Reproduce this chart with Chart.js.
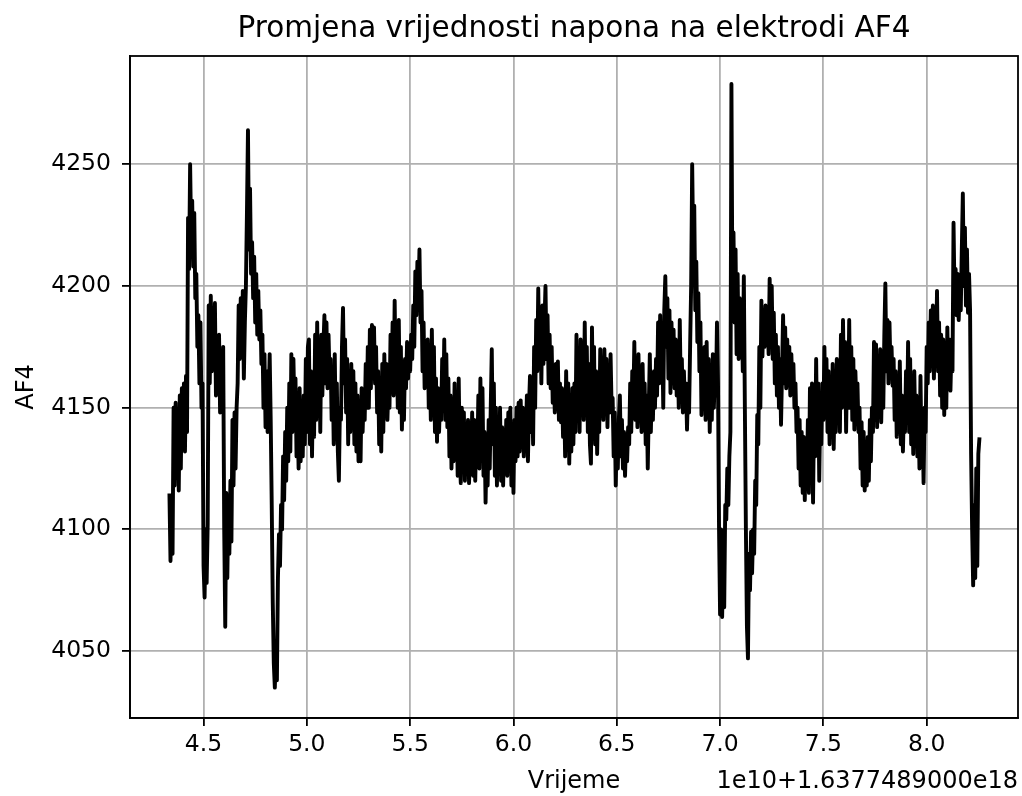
<!DOCTYPE html>
<html>
<head>
<meta charset="utf-8">
<script src="https://cdn.jsdelivr.net/npm/chart.js"></script>
<style>
  html, body { margin: 0; padding: 0; background: #fff; }
  #chartAF4 { display: block; }
</style>
</head>
<body>
<canvas id="chartAF4" width="1022" height="796"></canvas>
<script>
// vrijeme (x 1e10 + 1.6377489000e18)
var times = [
  4.335,4.340,4.345,4.350,4.355,4.360,4.365,4.370,4.375,4.380,
  4.385,4.390,4.395,4.400,4.405,4.410,4.415,4.420,4.425,4.430,
  4.435,4.440,4.445,4.450,4.455,4.460,4.465,4.470,4.475,4.480,
  4.485,4.490,4.495,4.500,4.505,4.510,4.515,4.520,4.525,4.530,
  4.535,4.540,4.545,4.550,4.555,4.560,4.565,4.570,4.575,4.580,
  4.585,4.590,4.595,4.600,4.605,4.610,4.615,4.620,4.625,4.630,
  4.635,4.640,4.645,4.650,4.655,4.660,4.665,4.670,4.675,4.680,
  4.685,4.690,4.695,4.700,4.705,4.710,4.715,4.720,4.725,4.730,
  4.735,4.740,4.745,4.750,4.755,4.760,4.765,4.770,4.775,4.780,
  4.785,4.790,4.795,4.800,4.805,4.810,4.815,4.820,4.825,4.830,
  4.835,4.840,4.845,4.850,4.855,4.860,4.865,4.870,4.875,4.880,
  4.885,4.890,4.895,4.900,4.905,4.910,4.915,4.920,4.925,4.930,
  4.935,4.940,4.945,4.950,4.955,4.960,4.965,4.970,4.975,4.980,
  4.985,4.990,4.995,5.000,5.005,5.010,5.015,5.020,5.025,5.030,
  5.035,5.040,5.045,5.050,5.055,5.060,5.065,5.070,5.075,5.080,
  5.085,5.090,5.095,5.100,5.105,5.110,5.115,5.120,5.125,5.130,
  5.135,5.140,5.145,5.150,5.155,5.160,5.165,5.170,5.175,5.180,
  5.185,5.190,5.195,5.200,5.205,5.210,5.215,5.220,5.225,5.230,
  5.235,5.240,5.245,5.250,5.255,5.260,5.265,5.270,5.275,5.280,
  5.285,5.290,5.295,5.300,5.305,5.310,5.315,5.320,5.325,5.330,
  5.335,5.340,5.345,5.350,5.355,5.360,5.365,5.370,5.375,5.380,
  5.385,5.390,5.395,5.400,5.405,5.410,5.415,5.420,5.425,5.430,
  5.435,5.440,5.445,5.450,5.455,5.460,5.465,5.470,5.475,5.480,
  5.485,5.490,5.495,5.500,5.505,5.510,5.515,5.520,5.525,5.530,
  5.535,5.540,5.545,5.550,5.555,5.560,5.565,5.570,5.575,5.580,
  5.585,5.590,5.595,5.600,5.605,5.610,5.615,5.620,5.625,5.630,
  5.635,5.640,5.645,5.650,5.655,5.660,5.665,5.670,5.675,5.680,
  5.685,5.690,5.695,5.700,5.705,5.710,5.715,5.720,5.725,5.730,
  5.735,5.740,5.745,5.750,5.755,5.760,5.765,5.770,5.775,5.780,
  5.785,5.790,5.795,5.800,5.805,5.810,5.815,5.820,5.825,5.830,
  5.835,5.840,5.845,5.850,5.855,5.860,5.865,5.870,5.875,5.880,
  5.885,5.890,5.895,5.900,5.905,5.910,5.915,5.920,5.925,5.930,
  5.935,5.940,5.945,5.950,5.955,5.960,5.965,5.970,5.975,5.980,
  5.985,5.990,5.995,6.000,6.005,6.010,6.015,6.020,6.025,6.030,
  6.035,6.040,6.045,6.050,6.055,6.060,6.065,6.070,6.075,6.080,
  6.085,6.090,6.095,6.100,6.105,6.110,6.115,6.120,6.125,6.130,
  6.135,6.140,6.145,6.150,6.155,6.160,6.165,6.170,6.175,6.180,
  6.185,6.190,6.195,6.200,6.205,6.210,6.215,6.220,6.225,6.230,
  6.235,6.240,6.245,6.250,6.255,6.260,6.265,6.270,6.275,6.280,
  6.285,6.290,6.295,6.300,6.305,6.310,6.315,6.320,6.325,6.330,
  6.335,6.340,6.345,6.350,6.355,6.360,6.365,6.370,6.375,6.380,
  6.385,6.390,6.395,6.400,6.405,6.410,6.415,6.420,6.425,6.430,
  6.435,6.440,6.445,6.450,6.455,6.460,6.465,6.470,6.475,6.480,
  6.485,6.490,6.495,6.500,6.505,6.510,6.515,6.520,6.525,6.530,
  6.535,6.540,6.545,6.550,6.555,6.560,6.565,6.570,6.575,6.580,
  6.585,6.590,6.595,6.600,6.605,6.610,6.615,6.620,6.625,6.630,
  6.635,6.640,6.645,6.650,6.655,6.660,6.665,6.670,6.675,6.680,
  6.685,6.690,6.695,6.700,6.705,6.710,6.715,6.720,6.725,6.730,
  6.735,6.740,6.745,6.750,6.755,6.760,6.765,6.770,6.775,6.780,
  6.785,6.790,6.795,6.800,6.805,6.810,6.815,6.820,6.825,6.830,
  6.835,6.840,6.845,6.850,6.855,6.860,6.865,6.870,6.875,6.880,
  6.885,6.890,6.895,6.900,6.905,6.910,6.915,6.920,6.925,6.930,
  6.935,6.940,6.945,6.950,6.955,6.960,6.965,6.970,6.975,6.980,
  6.985,6.990,6.995,7.000,7.005,7.010,7.015,7.020,7.025,7.030,
  7.035,7.040,7.045,7.050,7.055,7.060,7.065,7.070,7.075,7.080,
  7.085,7.090,7.095,7.100,7.105,7.110,7.115,7.120,7.125,7.130,
  7.135,7.140,7.145,7.150,7.155,7.160,7.165,7.170,7.175,7.180,
  7.185,7.190,7.195,7.200,7.205,7.210,7.215,7.220,7.225,7.230,
  7.235,7.240,7.245,7.250,7.255,7.260,7.265,7.270,7.275,7.280,
  7.285,7.290,7.295,7.300,7.305,7.310,7.315,7.320,7.325,7.330,
  7.335,7.340,7.345,7.350,7.355,7.360,7.365,7.370,7.375,7.380,
  7.385,7.390,7.395,7.400,7.405,7.410,7.415,7.420,7.425,7.430,
  7.435,7.440,7.445,7.450,7.455,7.460,7.465,7.470,7.475,7.480,
  7.485,7.490,7.495,7.500,7.505,7.510,7.515,7.520,7.525,7.530,
  7.535,7.540,7.545,7.550,7.555,7.560,7.565,7.570,7.575,7.580,
  7.585,7.590,7.595,7.600,7.605,7.610,7.615,7.620,7.625,7.630,
  7.635,7.640,7.645,7.650,7.655,7.660,7.665,7.670,7.675,7.680,
  7.685,7.690,7.695,7.700,7.705,7.710,7.715,7.720,7.725,7.730,
  7.735,7.740,7.745,7.750,7.755,7.760,7.765,7.770,7.775,7.780,
  7.785,7.790,7.795,7.800,7.805,7.810,7.815,7.820,7.825,7.830,
  7.835,7.840,7.845,7.850,7.855,7.860,7.865,7.870,7.875,7.880,
  7.885,7.890,7.895,7.900,7.905,7.910,7.915,7.920,7.925,7.930,
  7.935,7.940,7.945,7.950,7.955,7.960,7.965,7.970,7.975,7.980,
  7.985,7.990,7.995,8.000,8.005,8.010,8.015,8.020,8.025,8.030,
  8.035,8.040,8.045,8.050,8.055,8.060,8.065,8.070,8.075,8.080,
  8.085,8.090,8.095,8.100,8.105,8.110,8.115,8.120,8.125,8.130,
  8.135,8.140,8.145,8.150,8.155,8.160,8.165,8.170,8.175,8.180,
  8.185,8.190,8.195,8.200,8.205,8.210,8.215,8.220,8.225,8.230,
  8.235,8.240,8.245,8.250,8.255
];

// napon na elektrodi AF4
var af4 = [
  4114,4087,4108,4090,4150,4118,4152,4130,4148,4116,
  4155,4125,4158,4135,4160,4132,4163,4140,4228,4207,
  4250,4220,4235,4208,4230,4195,4205,4175,4188,4160,
  4185,4150,4160,4085,4072,4100,4078,4102,4192,4160,
  4196,4165,4190,4170,4193,4155,4178,4162,4180,4148,
  4170,4150,4175,4100,4060,4115,4080,4110,4090,4120,
  4095,4145,4118,4148,4125,4150,4160,4192,4170,4195,
  4175,4198,4162,4185,4200,4230,4264,4215,4240,4205,
  4218,4195,4212,4185,4205,4180,4198,4178,4190,4168,
  4180,4150,4172,4142,4165,4140,4152,4172,4145,4110,
  4070,4045,4035,4050,4038,4080,4098,4085,4110,4100,
  4130,4112,4140,4120,4150,4128,4160,4132,4172,4140,
  4170,4148,4162,4130,4148,4125,4158,4128,4152,4130,
  4155,4135,4170,4140,4175,4178,4135,4165,4130,4160,
  4138,4180,4145,4185,4150,4172,4140,4180,4155,4175,
  4188,4160,4185,4158,4180,4162,4170,4145,4165,4135,
  4172,4140,4160,4132,4120,4150,4145,4175,4191,4160,
  4178,4148,4170,4135,4162,4140,4168,4150,4165,4135,
  4160,4132,4155,4128,4150,4128,4158,4140,4155,4145,
  4168,4150,4175,4150,4182,4158,4184,4165,4183,4160,
  4175,4148,4165,4135,4160,4132,4168,4140,4172,4150,
  4168,4145,4160,4150,4180,4160,4185,4155,4194,4160,
  4180,4150,4186,4148,4175,4141,4160,4145,4170,4158,
  4177,4162,4175,4165,4180,4170,4192,4175,4206,4188,
  4210,4195,4215,4185,4198,4165,4185,4158,4175,4160,
  4178,4150,4170,4145,4182,4150,4175,4140,4162,4136,
  4158,4140,4155,4145,4170,4150,4178,4145,4172,4142,
  4162,4130,4155,4125,4150,4128,4160,4130,4148,4122,
  4162,4130,4119,4150,4125,4148,4120,4140,4125,4145,
  4119,4135,4125,4148,4122,4145,4120,4140,4128,4155,
  4125,4162,4130,4158,4122,4140,4111,4135,4118,4145,
  4125,4150,4174,4135,4160,4122,4150,4118,4145,4125,
  4150,4120,4142,4118,4140,4125,4145,4122,4148,4128,
  4150,4118,4140,4115,4145,4128,4150,4130,4152,4132,
  4153,4135,4150,4130,4148,4140,4155,4128,4150,4163,
  4140,4160,4135,4175,4150,4186,4165,4199,4170,4190,
  4160,4192,4168,4185,4200,4170,4188,4160,4180,4158,
  4175,4152,4165,4148,4168,4150,4169,4145,4160,4144,
  4158,4138,4155,4130,4165,4135,4160,4127,4150,4132,
  4158,4135,4160,4140,4180,4145,4172,4140,4178,4150,
  4170,4145,4185,4150,4175,4140,4168,4135,4127,4183,
  4150,4175,4135,4165,4131,4155,4140,4174,4150,4165,
  4145,4174,4150,4170,4142,4165,4148,4172,4150,4154,
  4130,4148,4118,4140,4125,4145,4155,4130,4145,4125,
  4140,4122,4138,4128,4142,4135,4160,4140,4165,4150,
  4177,4145,4168,4142,4172,4148,4165,4140,4168,4145,
  4160,4135,4155,4125,4150,4172,4140,4160,4145,4165,
  4150,4170,4155,4185,4160,4188,4165,4180,4150,4190,
  4204,4175,4195,4162,4190,4156,4185,4160,4182,4158,
  4178,4155,4172,4150,4186,4155,4170,4148,4165,4150,
  4160,4141,4158,4148,4175,4200,4250,4215,4233,4190,
  4210,4177,4197,4165,4185,4147,4170,4150,4175,4145,
  4177,4150,4170,4140,4165,4145,4172,4150,4165,4155,
  4185,4160,4100,4065,4100,4064,4090,4068,4110,4104,
  4125,4110,4130,4140,4283,4190,4222,4185,4215,4172,
  4205,4170,4195,4175,4190,4165,4204,4150,4100,4060,
  4047,4090,4075,4099,4082,4100,4090,4120,4110,4147,
  4135,4175,4150,4194,4171,4190,4175,4192,4178,4188,
  4172,4203,4180,4200,4170,4189,4160,4180,4155,4175,
  4150,4170,4143,4165,4188,4160,4183,4158,4178,4160,
  4175,4155,4172,4158,4168,4150,4160,4140,4150,4125,
  4145,4118,4140,4115,4138,4112,4135,4120,4145,4115,
  4158,4125,4160,4111,4150,4130,4170,4135,4160,4120,
  4150,4135,4160,4145,4175,4150,4170,4140,4165,4135,
  4162,4140,4168,4133,4160,4140,4170,4145,4162,4140,
  4180,4150,4186,4155,4177,4140,4170,4150,4186,4150,
  4175,4145,4170,4141,4165,4150,4160,4140,4150,4125,
  4144,4118,4140,4116,4135,4118,4138,4120,4145,4128,
  4150,4140,4177,4145,4176,4142,4165,4150,4174,4144,
  4170,4150,4180,4201,4165,4186,4160,4185,4165,4175,
  4159,4170,4145,4165,4138,4160,4140,4169,4135,4155,
  4132,4150,4140,4165,4145,4177,4140,4170,4135,4160,
  4131,4165,4140,4155,4130,4150,4125,4163,4130,4145,
  4119,4150,4140,4175,4160,4185,4165,4190,4168,4192,
  4162,4188,4170,4198,4165,4185,4155,4180,4150,4178,
  4147,4175,4150,4183,4160,4178,4157,4175,4165,4226,
  4195,4207,4188,4205,4186,4200,4190,4215,4238,4200,
  4224,4192,4215,4189,4205,4190,4131,4100,4077,4110,
  4080,4125,4085,4131,4137
];

var xTicks = [4.5, 5.0, 5.5, 6.0, 6.5, 7.0, 7.5, 8.0];
var yTicks = [4050, 4100, 4150, 4200, 4250];

var chartTitle = 'Promjena vrijednosti napona na elektrodi AF4';
var xLabel = 'Vrijeme';
var yLabel = 'AF4';
var xOffsetText = '1e10+1.6377489000e18';

document.addEventListener("DOMContentLoaded", function () {

    var fontFamily = '"DejaVu Sans", sans-serif';
    var tickFont = { family: 'DejaVu Sans', size: 23.5 };

    var points = times.map(function (t, i) {
        return { x: t, y: af4[i] };
    });

    // title, axis labels, offset text and the top/right frame
    var textPlugin = {
        id: 'mplText',
        afterDraw: function (chart) {
            var c = chart.ctx;
            var a = chart.chartArea;
            c.save();
            c.strokeStyle = '#000';
            c.lineWidth = 1.8;
            c.strokeRect(a.left, a.top, a.right - a.left, a.bottom - a.top);

            c.fillStyle = '#000';
            c.textBaseline = 'alphabetic';

            c.font = '29.5px ' + fontFamily;
            c.textAlign = 'center';
            c.fillText(chartTitle, (a.left + a.right) / 2, 37);

            c.font = '24px ' + fontFamily;
            c.fillText(xLabel, (a.left + a.right) / 2, 788);

            c.textAlign = 'right';
            c.fillText(xOffsetText, a.right, 788);

            c.translate(33, (a.top + a.bottom) / 2);
            c.rotate(-Math.PI / 2);
            c.textAlign = 'center';
            c.fillText(yLabel, 0, 0);
            c.restore();
        }
    };

    new Chart(document.getElementById('chartAF4'), {
        type: 'line',
        data: {
            datasets: [{
                data: points,
                borderColor: '#000000',
                borderWidth: 3.9,
                borderJoinStyle: 'round',
                borderCapStyle: 'square',
                pointRadius: 0,
                tension: 0,
                fill: false
            }]
        },
        options: {
            responsive: false,
            animation: false,
            layout: { padding: { left: 0, right: 4, top: 56, bottom: 0 } },
            plugins: {
                legend: { display: false },
                tooltip: { enabled: false },
                title: { display: false }
            },
            scales: {
                x: {
                    type: 'linear',
                    min: 4.144,
                    max: 8.442,
                    afterBuildTicks: function (s) {
                        s.ticks = xTicks.map(function (v) { return { value: v }; });
                    },
                    afterFit: function (s) { s.height = 78; },
                    ticks: {
                        font: tickFont,
                        color: '#000',
                        padding: 5,
                        autoSkip: false,
                        maxRotation: 0,
                        callback: function (v) { return v.toFixed(1); }
                    },
                    grid: {
                        color: '#b0b0b0',
                        lineWidth: 1.8,
                        tickLength: 8,
                        tickColor: '#000',
                        tickWidth: 1.8
                    },
                    border: { display: true, color: '#000', width: 1.8 }
                },
                y: {
                    type: 'linear',
                    min: 4022.5,
                    max: 4294.5,
                    afterBuildTicks: function (s) {
                        s.ticks = yTicks.map(function (v) { return { value: v }; });
                    },
                    afterFit: function (s) { s.width = 130; },
                    ticks: {
                        font: tickFont,
                        color: '#000',
                        padding: 11,
                        autoSkip: false,
                        callback: function (v) { return String(v); }
                    },
                    grid: {
                        color: '#b0b0b0',
                        lineWidth: 1.8,
                        tickLength: 8,
                        tickColor: '#000',
                        tickWidth: 1.8
                    },
                    border: { display: true, color: '#000', width: 1.8 }
                }
            }
        },
        plugins: [textPlugin]
    });
});
</script>
</body>
</html>
